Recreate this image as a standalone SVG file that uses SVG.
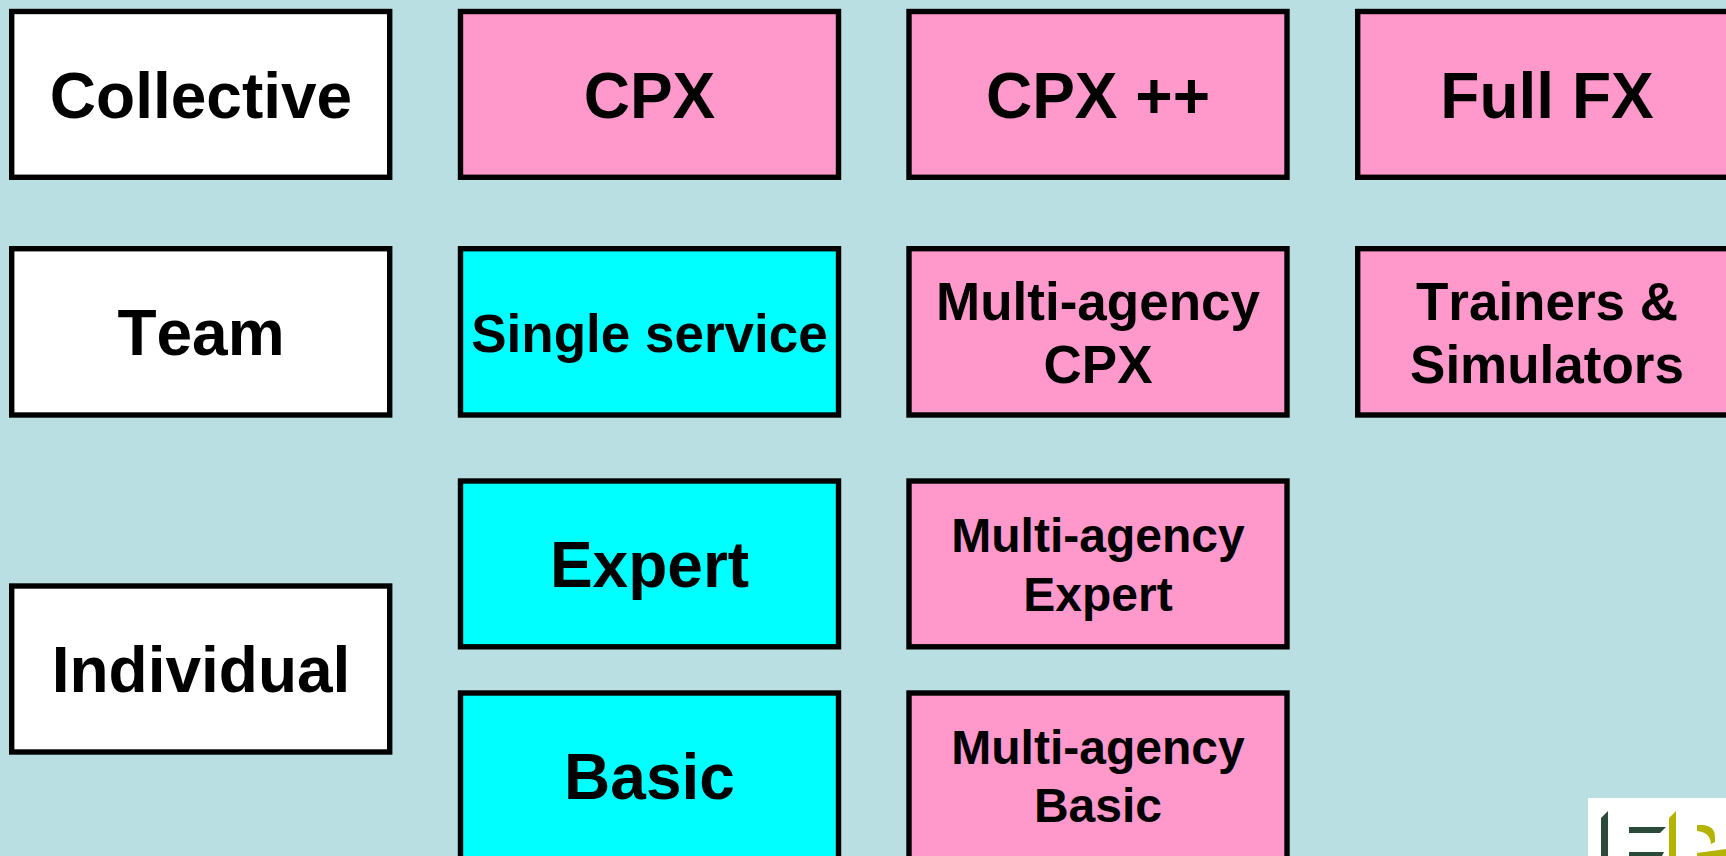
<svg xmlns="http://www.w3.org/2000/svg" width="1726" height="856" viewBox="0 0 1726 856">
<style>
.b{stroke:#000;stroke-width:5.4}
.w{fill:#fff}.p{fill:#ff99cc}.c{fill:#00ffff}
text{font-family:"Liberation Sans",Arial,sans-serif;font-weight:700;fill:#000;text-anchor:middle;font-kerning:none}
.f1{font-size:64px}.f2{font-size:53px}.f3{font-size:48px}
</style>
<rect width="1726" height="856" fill="#b9dfe2"/>
<g id="collective"><rect class="b w" x="11.7" y="11.5" width="378" height="165.8"/><text class="f1" x="201" y="118">Collective</text></g>
<g id="team"><rect class="b w" x="11.7" y="248.7" width="378" height="166.3"/><text class="f1" x="201" y="355">Team</text></g>
<g id="individual"><rect class="b w" x="11.7" y="586" width="378" height="166"/><text class="f1" x="201" y="692">Individual</text></g>
<g id="cpx"><rect class="b p" x="460.5" y="11.5" width="378" height="165.8"/><text class="f1" x="649.500" y="118">CPX</text></g>
<g id="single-service"><rect class="b c" x="460.5" y="248.7" width="378" height="166.3"/><text class="f2" x="649.500" y="352">Single service</text></g>
<g id="expert"><rect class="b c" x="460.5" y="481" width="378" height="165.800"/><text class="f1" x="649.500" y="587">Expert</text></g>
<g id="basic"><rect class="b c" x="460.5" y="693" width="378" height="170"/><text class="f1" x="649.500" y="799">Basic</text></g>
<g id="cpx-plus"><rect class="b p" x="909" y="11.5" width="378" height="165.8"/><text class="f1" x="1098" y="118">CPX ++</text></g>
<g id="multi-agency-cpx"><rect class="b p" x="909" y="248.7" width="378" height="166.3"/><text class="f2" x="1098" y="320">Multi-agency</text><text class="f2" x="1098" y="383">CPX</text></g>
<g id="multi-agency-expert"><rect class="b p" x="909" y="481" width="378" height="165.800"/><text class="f3" x="1098" y="552">Multi-agency</text><text class="f3" x="1098" y="611">Expert</text></g>
<g id="multi-agency-basic"><rect class="b p" x="909" y="693" width="378" height="170"/><text class="f3" x="1098" y="764">Multi-agency</text><text class="f3" x="1098" y="822">Basic</text></g>
<g id="full-fx"><rect class="b p" x="1357.700" y="11.5" width="378" height="165.8"/><text class="f1" x="1547" y="118">Full FX</text></g>
<g id="trainers-simulators"><rect class="b p" x="1357.700" y="248.7" width="378" height="166.300"/><text class="f2" x="1547" y="320">Trainers &amp;</text><text class="f2" x="1547" y="383">Simulators</text></g>
<g id="logo">
<rect x="1588" y="798" width="138" height="58" fill="#fff"/>
<polygon points="1601,818 1608,811 1608,856 1601,856" fill="#2a4a3a"/>
<polygon points="1629,827 1666,827 1660,833 1629,833" fill="#2a4a3a"/>
<polygon points="1629,852 1664,852 1662,856 1629,856" fill="#2a4a3a"/>
<polygon points="1669,818 1676,811 1676,856 1669,856" fill="#b3b300"/>
<path d="M1697 825h6q12 1 12 12v5l-4 2q-1-12-14-13z" fill="#b3b300"/>
<polygon points="1697,853 1726,849 1726,856 1697,856" fill="#b3b300"/>
</g>
<g id="connectors"/>
</svg>
